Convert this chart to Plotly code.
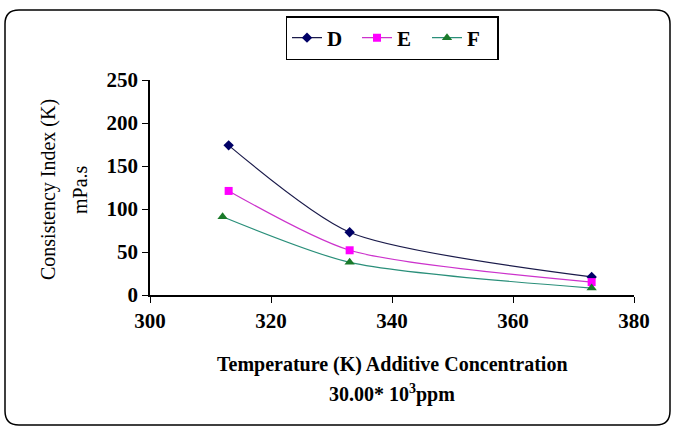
import plotly.graph_objects as go

temps_D = [313, 333, 373]
vals_D = [174, 73, 21]
temps_E = [313, 333, 373]
vals_E = [121, 52, 15]
temps_F = [312, 333, 373]
vals_F = [91, 38, 8]
x_ticks = [300, 320, 340, 360, 380]
y_ticks = [0, 50, 100, 150, 200, 250]

FONT = "Liberation Serif"

fig = go.Figure()
fig.add_trace(go.Scatter(x=temps_D, y=vals_D, name="D", mode="lines+markers",
                         line=dict(color="#1a1a4a", width=1.2, shape="spline", smoothing=0.7),
                         marker=dict(symbol="diamond", size=8, color="#000066")))
fig.add_trace(go.Scatter(x=temps_E, y=vals_E, name="E", mode="lines+markers",
                         line=dict(color="#cc33cc", width=1.2, shape="spline", smoothing=0.7),
                         marker=dict(symbol="square", size=8, color="#ff00ff")))
fig.add_trace(go.Scatter(x=temps_F, y=vals_F, name="F", mode="lines+markers",
                         line=dict(color="#2a8f7a", width=1.2, shape="spline", smoothing=0.7),
                         marker=dict(symbol="triangle-up", size=9, color="#1a7a2a")))

L, R, T, B = 150, 43, 80, 135
W, H = 677, 430
pw, ph = W - L - R, H - T - B

def px(xp):
    return (xp - L) / pw

def py(yp):
    return (H - B - yp) / ph

x0, x1, y0, y1, r = 5, 670, 10, 425, 14
path = (f"M {px(x0+r)},{py(y0)} L {px(x1-r)},{py(y0)} Q {px(x1)},{py(y0)} {px(x1)},{py(y0+r)} "
        f"L {px(x1)},{py(y1-r)} Q {px(x1)},{py(y1)} {px(x1-r)},{py(y1)} "
        f"L {px(x0+r)},{py(y1)} Q {px(x0)},{py(y1)} {px(x0)},{py(y1-r)} "
        f"L {px(x0)},{py(y0+r)} Q {px(x0)},{py(y0)} {px(x0+r)},{py(y0)} Z")

annots = [
    dict(text="Consistency Index (K)", x=px(48), y=py(190), textangle=-90,
         font=dict(family=FONT, size=20, color="black")),
    dict(text="mPa.s", x=px(80), y=py(190), textangle=-90,
         font=dict(family=FONT, size=20, color="black")),
    dict(text="Temperature (K) Additive Concentration", x=px(392), y=py(364),
         font=dict(family=FONT, size=20, color="black", weight="bold")),
    dict(text="30.00* 10<sup>3</sup>ppm", x=px(392), y=py(393),
         font=dict(family=FONT, size=20, color="black", weight="bold")),
]
for a in annots:
    a.update(xref="paper", yref="paper", showarrow=False, xanchor="center", yanchor="middle")

fig.update_layout(
    width=W, height=H,
    margin=dict(l=L, r=R, t=T, b=B),
    paper_bgcolor="white", plot_bgcolor="white",
    font=dict(family=FONT, color="black", size=20),
    shapes=[dict(type="path", xref="paper", yref="paper", path=path,
                 line=dict(color="black", width=1.5), layer="below")],
    annotations=annots,
    legend=dict(orientation="h", x=0.5, xanchor="center", y=py(16), yanchor="top",
                bordercolor="black", borderwidth=1.5,
                entrywidth=25, entrywidthmode="pixels",
                font=dict(family=FONT, size=21, color="black", weight="bold")),
    showlegend=True,
)
fig.update_xaxes(range=[300, 380], tickvals=x_ticks, showline=True, linecolor="black",
                 linewidth=1.5, ticks="outside", ticklen=6, tickcolor="black",
                 showgrid=False, zeroline=False,
                 tickfont=dict(family=FONT, size=21, weight="bold"))
fig.update_yaxes(range=[0, 250], tickvals=y_ticks, showline=True, linecolor="black",
                 linewidth=1.5, ticks="outside", ticklen=6, tickcolor="black",
                 showgrid=False, zeroline=False,
                 tickfont=dict(family=FONT, size=21, weight="bold"))

fig.write_html("out.html")
